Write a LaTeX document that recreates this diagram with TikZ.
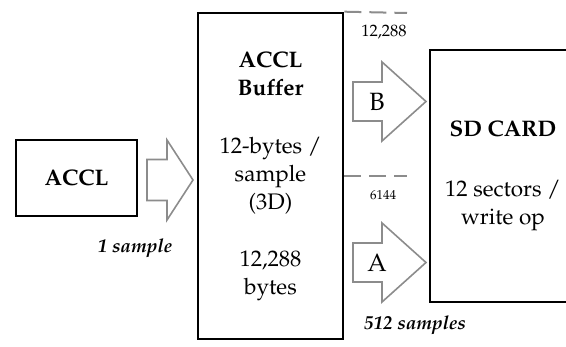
\documentclass[tikz,border=0pt]{standalone}
\usepackage[T1]{fontenc}
\usepackage{mathpazo}
\usepackage{tikz}
\usetikzlibrary{positioning}
\usetikzlibrary{calc}
\definecolor{arrowgray}{rgb}{0.55, 0.55, 0.55}
\newcommand{\blockarrow}[6][]{
  \draw[arrowgray, line width=1.6pt, #1] ($(#2)+(0,-#5)$) -- ($(#3)+(-#4,-#5)$) -- ($(#3)+(-#4,-#6)$) -- (#3)
    -- ($(#3)+(-#4,#6)$) -- ($(#3)+(-#4,#5)$) -- ($(#2)+(0,#5)$) -- cycle;
}

\begin{document}
\begin{tikzpicture}[x=1pt, y=-1pt,
    box/.style={draw, line width=2.6pt, inner sep=0pt, align=center, font=\fontsize{22.5}{28}\selectfont},
    tick/.style={arrowgray, line width=2pt, dash pattern=on 17pt off 8pt},
    count/.style={inner sep=0pt, font=\fontsize{16.5}{18}\selectfont},
    rate/.style={inner sep=0pt, font=\fontsize{19}{22}\selectfont\bfseries\itshape}]
    \useasboundingbox (0,0) rectangle (566,347);

    \node[box, minimum width=121pt, minimum height=76pt] (accl) at (76.5,178) {\textbf{ACCL}};
    \node[box, minimum width=145pt, minimum height=326pt] (buf) at (270.5,176) {};
    \node[box, minimum width=146pt, minimum height=252pt] (sd) at (503,176) {};

    \node[align=center, font=\fontsize{22.5}{28}\selectfont] (bufText) at (buf.center)
        {\textbf{ACCL}\\\textbf{Buffer}\\[30pt]12-bytes /\\sample\\(3D)\\[29pt]12,288\\bytes};
    \node[align=center, font=\fontsize{22.5}{28}\selectfont] (sdText) at (sd.center)
        {\textbf{SD CARD}\\[32pt]12 sectors /\\write op};

    % buffer fill marks
    \coordinate (fullEnd) at (407,13);
    \coordinate (halfEnd) at (407,176);
    \draw[tick] (buf.north east) -- (fullEnd);
    \draw[tick] (buf.east) -- (halfEnd);
    \node[count] (full) at (384,32) {12,288};
    \node[count, font=\fontsize{13}{14}\selectfont] (half) at (383,195) {6144};

    % block arrows
    \coordinate (acclFrom) at (147,180);
    \coordinate (acclTo) at (193,180);
    \coordinate (bFrom) at (353,101.5);
    \coordinate (bTo) at (426,101.5);
    \coordinate (aFrom) at (353,262.5);
    \coordinate (aTo) at (426,262.5);
    \blockarrow{acclFrom}{acclTo}{26}{20.5}{40}
    \blockarrow{bFrom}{bTo}{44}{19.5}{39.5}
    \blockarrow{aFrom}{aTo}{44}{19.5}{39.5}
    \node[font=\fontsize{25}{28}\selectfont, inner sep=0pt] (bLabel) at (377,102) {B};
    \node[font=\fontsize{25}{28}\selectfont, inner sep=0pt] (aLabel) at (377,263) {A};

    \node[rate] (oneSample) at (135,248) {1 sample};
    \node[rate] (blockSamples) at (415,325) {512 samples};
\end{tikzpicture}
\end{document}
